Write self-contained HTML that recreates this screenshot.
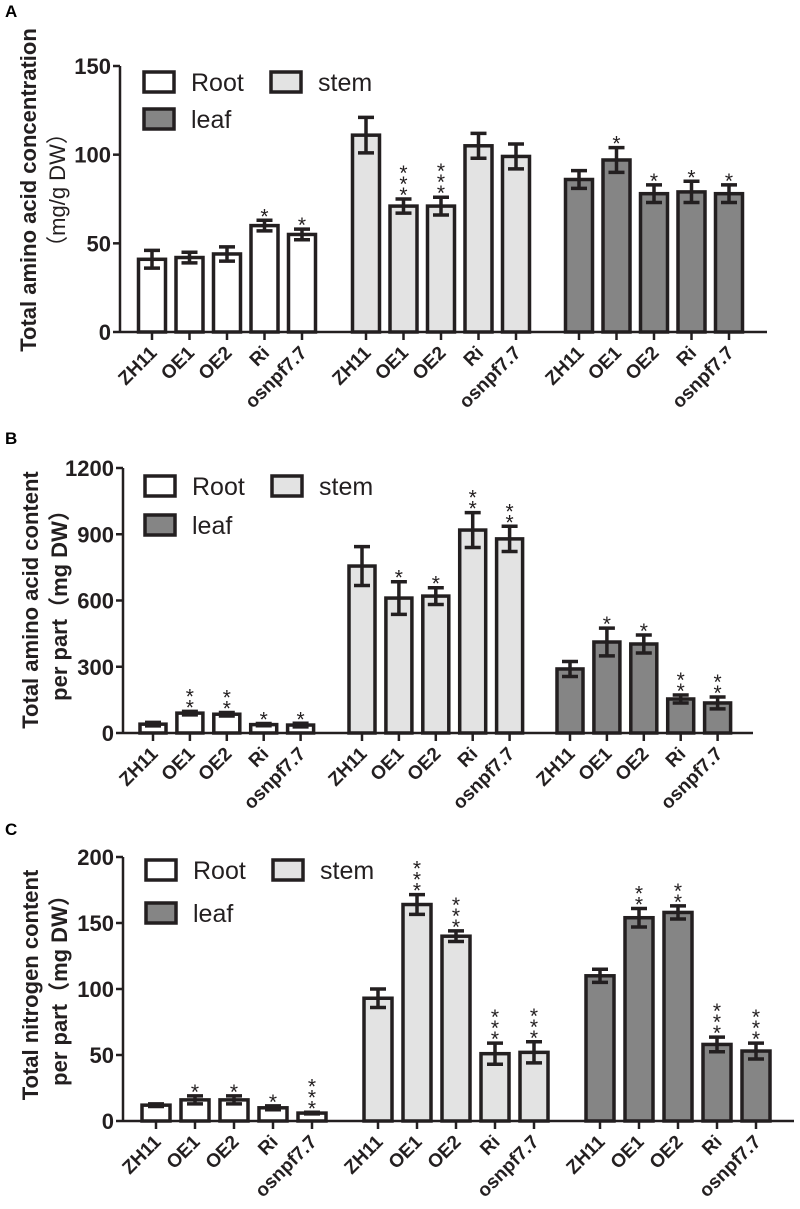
<!DOCTYPE html>
<html><head><meta charset="utf-8"><style>
body{margin:0;background:#fff;}
svg{display:block;font-family:"Liberation Sans","Noto Sans CJK SC",sans-serif;}
</style></head><body>
<svg id="fig" width="800" height="1209" viewBox="0 0 800 1209"></svg>
<script>
const categories = ["ZH11","OE1","OE2","Ri","osnpf7.7"];
const groups = ["Root","stem","leaf"];
// Panel A: concentration
const aRoot = [41,42,44,60,55], aRootErr = [5,3,4,3,3];
const aStem = [111,71,71,105,99], aStemErr = [10,4,5,7,7];
const aLeaf = [86,97,78,79,78], aLeafErr = [5,7,5,6,5];
const aRootSig = ["","","","*","*"], aStemSig = ["","***","***","",""], aLeafSig = ["","*","*","*","*"];
const aTicks = [0,50,100,150];
// Panel B: amino acid content per part
const bRoot = [40,90,85,38,36], bRootErr = [8,8,8,5,8];
const bStem = [756,611,620,919,879], bStemErr = [88,74,38,79,57];
const bLeaf = [290,412,403,154,136], bLeafErr = [34,63,41,18,27];
const bRootSig = ["","**","**","*","*"], bStemSig = ["","*","*","**","**"], bLeafSig = ["","*","*","**","**"];
const bTicks = [0,300,600,900,1200];
// Panel C: nitrogen content per part
const cRoot = [12,16,16,10,6], cRootErr = [1,3,3,1.5,0.6];
const cStem = [93,164,140,51,52], cStemErr = [7,7.5,4,8,8];
const cLeaf = [110,154,158,58,53], cLeafErr = [5,7,5,5.5,6];
const cRootSig = ["","*","*","*","***"], cStemSig = ["","***","***","***","***"], cLeafSig = ["","**","**","***","***"];
const cTicks = [0,50,100,150,200];

const NS="http://www.w3.org/2000/svg";
const svg=document.getElementById('fig');
function mk(tag,attrs,parent,text){const e=document.createElementNS(NS,tag);for(const k in attrs)e.setAttribute(k,attrs[k]);if(text!==undefined)e.textContent=text;(parent||svg).appendChild(e);return e;}
const fills=["#ffffff","#e3e3e3","#858585"];
const ink="#231f20";

function panel(p){
  const g=mk('g',{});
  
  
  const t=mk('text',{x:5,y:p.letterY,'font-size':17,'font-weight':'bold',fill:'#000'},g,p.id);
  
  
  const yMax=p.ticks[p.ticks.length-1];
  const yScale=v=>p.y0-(v/yMax)*(p.y0-p.yTop);
  const xPos=(gi,ci)=>p.gStart[gi]+ci*p.step;
  const ya=mk('line',{x1:p.ax,y1:p.yTop,x2:p.ax,y2:p.y0,stroke:ink,'stroke-width':2.5},g);
  
  
  const xa=mk('line',{x1:p.ax,y1:p.y0,x2:p.axEnd,y2:p.y0,stroke:ink,'stroke-width':2.5},g);
  
  
  p.ticks.forEach(v=>{
    const y=yScale(v);
    mk('line',{x1:p.ax-7,y1:y,x2:p.ax,y2:y,stroke:ink,'stroke-width':2.5},g);
    const tl=mk('text',{x:p.ax-9,y:y+8,'font-size':22,'font-weight':'bold','text-anchor':'end',fill:ink},g,String(v));
    
    
  });
  const tt=mk('text',{transform:`translate(${p.titleX},${p.titleCY}) rotate(-90)`,'text-anchor':'middle','font-size':22,'font-weight':'bold',fill:ink},g);
  
  
  mk('tspan',{x:0,y:0},tt,p.title1);
  mk('tspan',{x:0,y:29,'font-weight':p.t2bold?'bold':'normal'},tt,p.title2);
  p.series.forEach((s,gi)=>{
    s.vals.forEach((v,ci)=>{
      const cx=xPos(gi,ci), top=yScale(v);
      const r=mk('rect',{x:cx-p.bw/2,y:top,width:p.bw,height:p.y0-top,fill:fills[gi],stroke:ink,'stroke-width':3.5},g);
      
      
      const e=s.err[ci], yh=yScale(v+e), yl=yScale(v-e);
      const eb=mk('path',{d:`M${cx},${yh}V${yl}M${cx-8},${yh}H${cx+8}M${cx-8},${yl}H${cx+8}`,stroke:ink,'stroke-width':3.5,fill:'none'},g);
      
      
      const sig=s.sig[ci];
      for(let k=0;k<sig.length;k++){
        const st=mk('text',{x:cx,y:yh+14-(k+1)*11,'font-size':21,'text-anchor':'middle',fill:ink},g,'*');
        
        
      }
      mk('line',{x1:cx,y1:p.y0,x2:cx,y2:p.y0+8,stroke:ink,'stroke-width':2.5},g);
      const xl=mk('text',{transform:`translate(${cx+6},${p.y0+22}) rotate(-45)`,'text-anchor':'end','font-size':19,'font-weight':'bold',fill:ink},g,categories[ci]);
      
      
    });
  });
  const L=[[p.legX,p.legY,0],[p.legX+127,p.legY,1],[p.legX,p.legY+p.legDy,2]];
  L.forEach(([x,y,i])=>{
    const lr=mk('rect',{x:x,y:y,width:30,height:20,fill:fills[i],stroke:ink,'stroke-width':3.5},g);
    
    
    const lt=mk('text',{x:x+47,y:y+19,'font-size':25,fill:ink},g,groups[i]);
    
    
  });
}

panel({id:'A',letterY:17,ax:120,axEnd:767,yTop:66,y0:332,ticks:aTicks,gStart:[152,366,579],step:37.5,bw:27,
  titleX:36,titleCY:190,title1:'Total amino acid concentration',title2:'（mg/g DW）',
  series:[{vals:aRoot,err:aRootErr,sig:aRootSig},{vals:aStem,err:aStemErr,sig:aStemSig},{vals:aLeaf,err:aLeafErr,sig:aLeafSig}],
  legX:144,legY:72,legDy:37});
panel({id:'B',letterY:444,ax:123,axEnd:753,yTop:468,y0:733,ticks:bTicks,gStart:[153,362,570],step:36.9,bw:26,
  titleX:38,titleCY:600,title1:'Total amino acid content',title2:'per part（mg DW）',t2bold:true,
  series:[{vals:bRoot,err:bRootErr,sig:bRootSig},{vals:bStem,err:bStemErr,sig:bStemSig},{vals:bLeaf,err:bLeafErr,sig:bLeafSig}],
  legX:145,legY:476,legDy:39});
panel({id:'C',letterY:835,ax:123,axEnd:794,yTop:857,y0:1121,ticks:cTicks,gStart:[156,378,600],step:39,bw:28,
  titleX:38,titleCY:985,title1:'Total nitrogen content',title2:'per part（mg DW）',t2bold:true,
  series:[{vals:cRoot,err:cRootErr,sig:cRootSig},{vals:cStem,err:cStemErr,sig:cStemSig},{vals:cLeaf,err:cLeafErr,sig:cLeafSig}],
  legX:146,legY:860,legDy:43});
</script>
</body></html>
